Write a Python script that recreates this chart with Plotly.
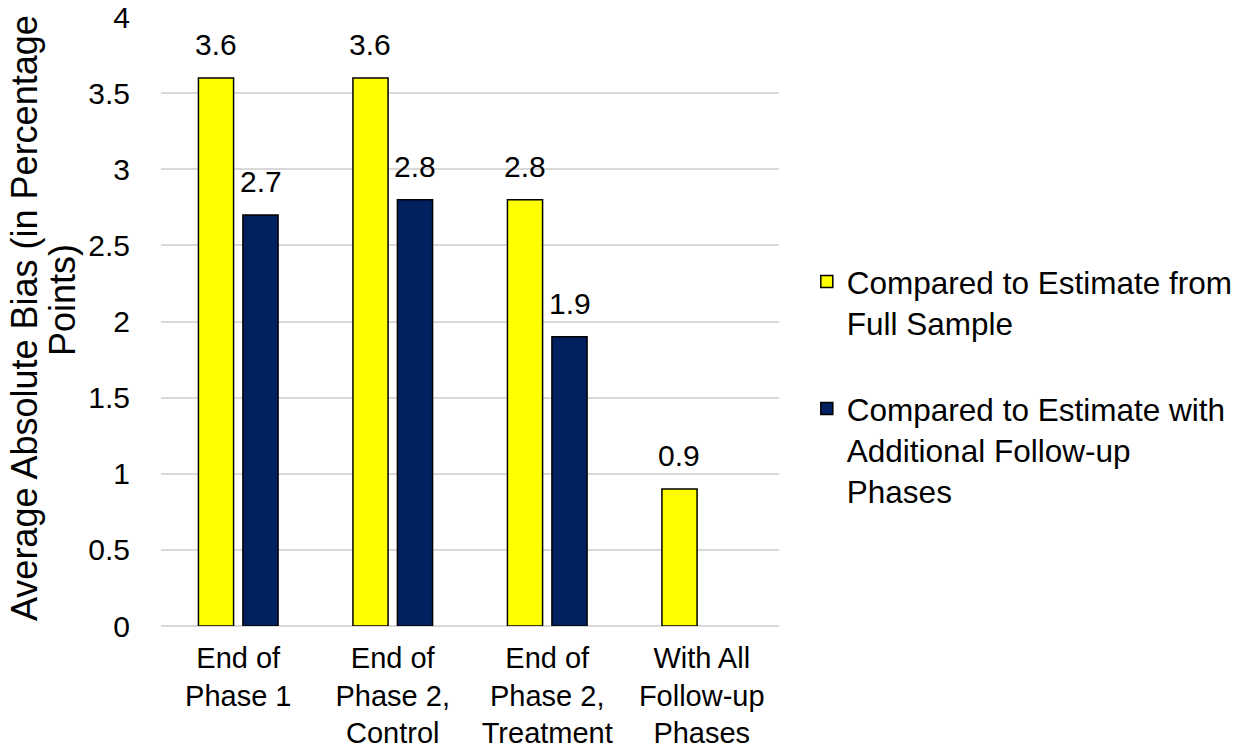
import plotly.graph_objects as go

# Category tick labels (line breaks as drawn under the axis)
categories = [
    "End of<br>Phase 1",
    "End of<br>Phase 2,<br>Control",
    "End of<br>Phase 2,<br>Treatment",
    "With All<br>Follow-up<br>Phases",
]

# Average absolute bias, in percentage points
full_sample = [3.6, 3.6, 2.8, 0.9]
additional_followup = [2.7, 2.8, 1.9, None]

series_names = [
    "Compared to Estimate from<br>Full Sample",
    "Compared to Estimate with<br>Additional Follow-up<br>Phases",
]
series_colors = ["#FFFF00", "#002060"]

y_title_lines = ["Average Absolute Bias (in Percentage", "Points)"]
y_ticks = [0, 0.5, 1, 1.5, 2, 2.5, 3, 3.5, 4]

FONT = "Liberation Sans, Arial, sans-serif"
W, H = 1236, 751
M_L, M_R, M_T, M_B = 161, 457, 17, 125
PW, PH = W - M_L - M_R, H - M_T - M_B

fig = go.Figure()
series = [full_sample, additional_followup]
for vals, name, color, grp in zip(series, series_names, series_colors, ["a", "b"]):
    fig.add_trace(go.Bar(
        x=categories, y=vals, name=name,
        marker=dict(color=color, line=dict(color="#000000", width=1.5)),
        legendgroup=grp,
    ))

# Value labels above each bar, offset to its slot within the group
slot_shift = [-22.3, 22.3]
for vals, dx in zip(series, slot_shift):
    for cat, v in zip(categories, vals):
        if v is None:
            continue
        fig.add_annotation(
            x=cat, y=v, xref="x", yref="y", text=f"{v:.1f}",
            showarrow=False, xanchor="center", yanchor="bottom",
            xshift=dx, yshift=15,
            font=dict(size=30, color="#000000", family=FONT),
        )

# Rotated y-axis title, one annotation per line
for line, px_x, px_y in zip(y_title_lines, [25, 62], [318, 300]):
    fig.add_annotation(
        text=line,
        xref="paper", yref="paper",
        x=(px_x - M_L) / PW, y=(H - M_B - px_y) / PH,
        xanchor="center", yanchor="middle", textangle=-90,
        showarrow=False, font=dict(size=36, color="#000000", family=FONT),
    )

fig.update_layout(
    width=W, height=H,
    margin=dict(l=M_L, r=M_R, t=M_T, b=M_B, autoexpand=False),
    paper_bgcolor="#FFFFFF", plot_bgcolor="#FFFFFF",
    font=dict(family=FONT, size=30, color="#000000"),
    barmode="group", bargap=0.424, bargroupgap=0.21,
    showlegend=True,
    legend=dict(
        x=1.045, xanchor="left", y=0.61, yanchor="top",
        font=dict(size=31.5, color="#000000", family=FONT),
        valign="top", tracegroupgap=42, traceorder="grouped",
        bgcolor="rgba(0,0,0,0)",
    ),
)
fig.update_yaxes(
    range=[0, 4], tickvals=y_ticks, ticks="", ticklabelstandoff=30,
    automargin=False,
    showgrid=True, gridcolor="#D9D9D9", gridwidth=1.5,
    zeroline=True, zerolinecolor="#D9D9D9", zerolinewidth=1.5,
    showline=False, tickfont=dict(size=30, family=FONT, color="#000000"),
)
fig.update_xaxes(
    ticks="", showline=False, ticklabelstandoff=12, automargin=False,
    tickfont=dict(size=29, family=FONT, color="#000000"),
)

fig.write_html("out.html")
